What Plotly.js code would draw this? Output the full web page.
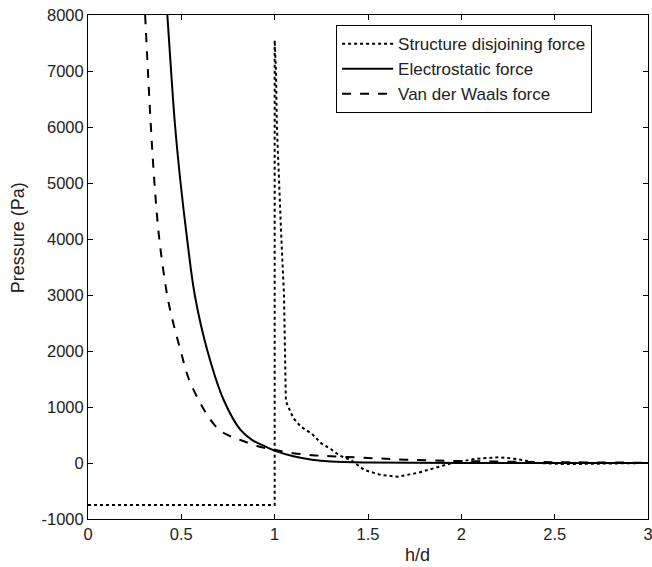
<!DOCTYPE html>
<html>
<head>
<meta charset="utf-8">
<script src="https://cdn.plot.ly/plotly-3.0.1.min.js"></script>
<style>html,body{margin:0;padding:0;background:#fff;}#chart{width:652px;height:567px;}</style>
</head>
<body>
<div id="chart"></div>
<script>
// Structure disjoining force (dotted)
const hStruct = [0, 1.0, 1.0, 1.007, 1.012, 1.023, 1.036, 1.05, 1.054, 1.06, 1.1, 1.14, 1.2, 1.25, 1.3, 1.35, 1.41, 1.48, 1.57, 1.66, 1.77, 1.89, 1.95, 2.07, 2.2, 2.3, 2.41, 2.55, 2.82, 3.0];
const pStruct = [-750, -750, 7550, 7000, 6000, 5000, 4000, 3000, 2000, 1100, 800, 650, 520, 350, 250, 130, 50, -125, -214, -245, -173, -54, 0, 70, 105, 70, 0, -20, -10, 0];

// Electrostatic force (solid)
const hElec = [0.425, 0.445, 0.467, 0.496, 0.531, 0.572, 0.64, 0.727, 0.817, 0.88, 0.96, 1.0, 1.1, 1.2, 1.3, 1.5, 2.0, 3.0];
const pElec = [8000, 7000, 6000, 5000, 4000, 3000, 2000, 1125, 590, 410, 280, 220, 120, 60, 28, 10, 2, 0];

// Van der Waals force (dashed)
const hVdw = [0.306, 0.321, 0.337, 0.356, 0.382, 0.424, 0.453, 0.495, 0.54, 0.593, 0.64, 0.70, 0.755, 0.817, 0.925, 1.0, 1.1, 1.2, 1.3, 1.5, 1.7, 2.0, 2.5, 3.0];
const pVdw = [8000, 7000, 6000, 5000, 4000, 3000, 2550, 2020, 1500, 1125, 850, 600, 490, 410, 285, 235, 175, 140, 120, 90, 60, 35, 15, 5];

const xTicks = [0, 0.5, 1, 1.5, 2, 2.5, 3];
const xTickText = ['0', '0.5', '1', '1.5', '2', '2.5', '3'];
const yTicks = [-1000, 0, 1000, 2000, 3000, 4000, 5000, 6000, 7000, 8000];
const yTickText = ['-1000', '0', '1000', '2000', '3000', '4000', '5000', '6000', '7000', '8000'];

const traces = [
  {x: hStruct, y: pStruct, mode: 'lines', name: 'Structure disjoining force',
   line: {color: '#000', width: 2, dash: 'dot'}},
  {x: hElec, y: pElec, mode: 'lines', name: 'Electrostatic force',
   line: {color: '#000', width: 2, dash: 'solid', shape: 'spline', smoothing: 1}},
  {x: hVdw, y: pVdw, mode: 'lines', name: 'Van der Waals force',
   line: {color: '#000', width: 2, dash: 'dash', shape: 'spline', smoothing: 1}}
];

const font = {family: 'Liberation Sans, Arial, sans-serif', color: '#222'};

const layout = {
  width: 652, height: 567,
  margin: {l: 88, r: 4, t: 15, b: 48},
  paper_bgcolor: '#fff', plot_bgcolor: '#fff',
  font: Object.assign({size: 16}, font),
  showlegend: true,
  legend: {
    x: 0.443, y: 0.98, xanchor: 'left', yanchor: 'top',
    bgcolor: '#fff', bordercolor: '#000', borderwidth: 1,
    font: Object.assign({size: 17}, font),
    itemwidth: 51,
    tracegroupgap: 0
  },
  xaxis: {
    range: [0, 3], tickvals: xTicks, ticktext: xTickText,
    ticks: 'inside', ticklen: 5, tickcolor: '#000', mirror: 'ticks',
    showline: true, linecolor: '#000', linewidth: 1,
    showgrid: false, zeroline: false,
    ticklabeloverflow: 'allow',
    tickfont: Object.assign({size: 16.5}, font)
  },
  yaxis: {
    range: [-1000, 8000], tickvals: yTicks, ticktext: yTickText,
    ticks: 'inside', ticklen: 5, tickcolor: '#000', mirror: 'ticks',
    showline: true, linecolor: '#000', linewidth: 1,
    showgrid: false, zeroline: false,
    tickfont: Object.assign({size: 16.5}, font)
  },
  annotations: [
    {text: 'h/d', xref: 'paper', yref: 'paper', x: 0.5875, y: -0.072,
     xanchor: 'center', yanchor: 'middle', showarrow: false,
     font: Object.assign({size: 18}, font)},
    {text: 'Pressure (Pa)', xref: 'paper', yref: 'paper', x: -0.126, y: 0.558,
     xanchor: 'center', yanchor: 'middle', showarrow: false, textangle: -90,
     font: Object.assign({size: 18}, font)}
  ]
};

Plotly.newPlot('chart', traces, layout, {displayModeBar: false, staticPlot: true});
</script>
</body>
</html>
